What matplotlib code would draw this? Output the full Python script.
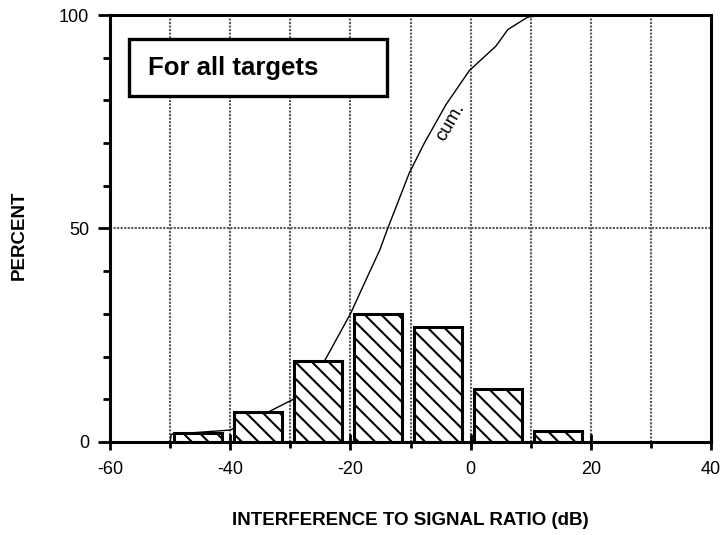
import matplotlib
matplotlib.use("Agg")
import matplotlib.pyplot as plt
from matplotlib.ticker import MultipleLocator
from matplotlib.patches import Rectangle

plt.rcParams['font.family'] = ['Liberation Sans', 'DejaVu Sans']
plt.rcParams['hatch.linewidth'] = 1.5

# Histogram bins (left edges, dB) and percentages
bin_left = [-50, -40, -30, -20, -10, 0, 10]
percent = [2, 7, 19, 30, 27, 12.5, 2.5]

# Cumulative curve
cum_x = [-60, -50, -49.8, -40, -33.7, -29.5, -24.3, -20, -17.4, -15.1, -13.8,
         -10.2, -7.7, -4.1, -0.2, 4.2, 6.2, 9.5, 12.5, 40]
cum_y = [0, 0, 1.8, 2.8, 7, 10, 19, 30, 38, 45, 50,
         63, 70, 79, 87, 92.7, 96.6, 99.5, 100, 100]

x_ticks = [-60, -40, -20, 0, 20, 40]
x_ticklabels = ['-60', '-40', '-20', '0', '20', '40']
y_ticks = [0, 50, 100]
y_ticklabels = ['0', '50', '100']

fig = plt.figure(figsize=(7.25, 5.35), dpi=100)
ax = fig.add_axes([110/725, 93/535, 601/725, 427/535])
ax.set_xlim(-60, 40)
ax.set_ylim(0, 100)

# grid
for gx in range(-50, 40, 10):
    ax.axvline(gx, color='0.35', lw=1.5, ls=(0, (1, 0.7)), zorder=1)
ax.axhline(50, color='0.35', lw=1.5, ls=(0, (1, 0.7)), zorder=1)

ax.plot(cum_x, cum_y, color='black', lw=1.0, zorder=2)

ax.bar([b + 0.6 for b in bin_left], percent, width=8.0, align='edge',
       facecolor='white', edgecolor='black', linewidth=2.2, hatch='\\\\',
       zorder=3)

ax.text(-3.4, 75, 'cum.', rotation=60, fontsize=13.5, ha='center', va='center',
        zorder=4)

# title box
ax.add_patch(Rectangle((0.0316, 0.8103), 0.4293, 0.1335, transform=ax.transAxes,
                       facecolor='white', edgecolor='black', linewidth=2.4,
                       zorder=5))
ax.text(0.063, 0.877, 'For all targets', transform=ax.transAxes,
        fontsize=18.5, fontweight='bold', ha='left', va='center', zorder=6)

for s in ax.spines.values():
    s.set_linewidth(2.2)
    s.set_zorder(7)

ax.set_xticks(x_ticks)
ax.set_xticklabels(x_ticklabels, fontsize=13)
ax.xaxis.set_minor_locator(MultipleLocator(10))
ax.set_yticks(y_ticks)
ax.set_yticklabels(y_ticklabels, fontsize=13)
ax.yaxis.set_minor_locator(MultipleLocator(10))
ax.tick_params(axis='x', which='major', direction='inout', length=12, width=2, pad=8)
ax.tick_params(axis='x', which='minor', direction='out', length=4, width=2)
ax.tick_params(axis='y', which='major', direction='out', length=9, width=2, pad=6)
ax.tick_params(axis='y', which='minor', direction='out', length=5, width=2)

ax.set_xlabel('INTERFERENCE TO SIGNAL RATIO (dB)', fontsize=13.5,
              fontweight='bold')
ax.xaxis.set_label_coords(0.5, -70/427)
ax.set_ylabel('PERCENT', fontsize=13.5, fontweight='bold')
ax.yaxis.set_label_coords(-82/601, 0.485)

fig.savefig('out.png', dpi=100)
